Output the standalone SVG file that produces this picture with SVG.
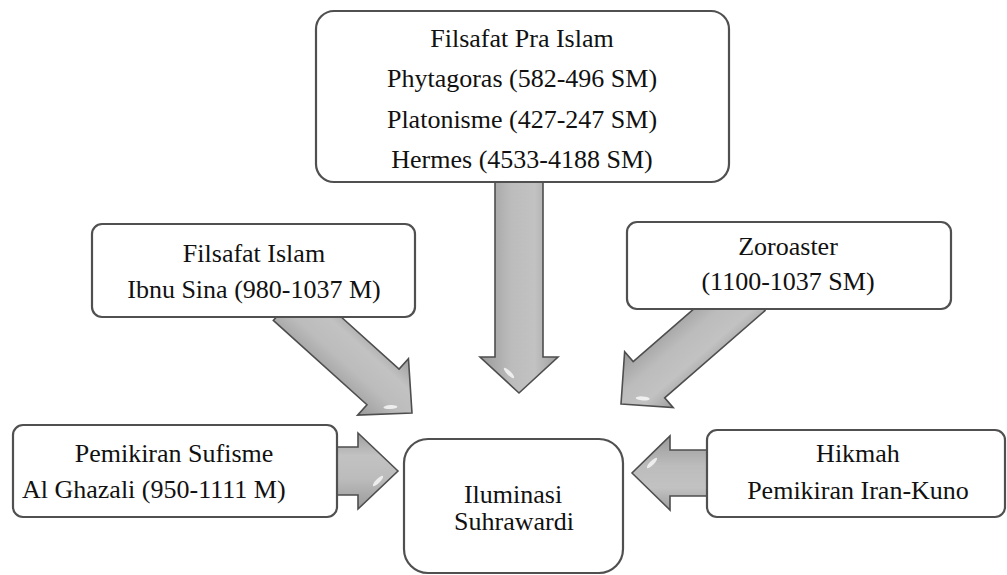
<svg xmlns="http://www.w3.org/2000/svg" width="1007" height="575" viewBox="0 0 1007 575">
  <defs>
    <!-- shaded fill across the arrow body (local y axis = across the arrow) -->
    <linearGradient id="arrowFill" x1="0" y1="0" x2="0" y2="1">
      <stop offset="0" stop-color="#9e9e9e"/>
      <stop offset="0.3" stop-color="#c2c2c2"/>
      <stop offset="0.6" stop-color="#bcbcbc"/>
      <stop offset="1" stop-color="#9a9a9a"/>
    </linearGradient>
  </defs>
  <style>
    .box { fill: #ffffff; stroke: #505050; stroke-width: 2.2; }
    .arrow { fill: url(#arrowFill); stroke: #4e4e4e; stroke-width: 1.6; stroke-linejoin: miter; }
    .shine { fill: #ffffff; opacity: 0.75; }
    text { font-family: "Liberation Serif", Tinos, "Times New Roman", Times, "Noto Serif", "DejaVu Serif", serif; font-size: 26px; fill: #111111; }
    .mid { text-anchor: middle; }
  </style>
  <rect width="1007" height="575" fill="#ffffff"/>

  <!-- block arrows: drawn in local space pointing along +x with the tip at the origin -->
  <g id="connectors">
    <g transform="translate(519,393) rotate(90)">
      <path class="arrow" d="M0,0 L-36,-39 L-36,-24 L-218,-24 L-218,24 L-36,24 L-36,39 Z"/>
      <ellipse class="shine" cx="-20" cy="10" rx="7" ry="2" transform="rotate(-45 -20 10)"/>
    </g>
    <g transform="translate(412,413) rotate(42)">
      <path class="arrow" d="M0,0 L-39,-38 L-39,-24 L-165,-24 L-165,24 L-39,24 L-39,38 Z"/>
      <ellipse class="shine" cx="-20" cy="10" rx="7" ry="2" transform="rotate(-45 -20 10)"/>
    </g>
    <g transform="translate(621,404) rotate(139)">
      <path class="arrow" d="M0,0 L-37,-37 L-37,-24 L-170,-24 L-170,24 L-37,24 L-37,37 Z"/>
      <ellipse class="shine" cx="-20" cy="-10" rx="7" ry="2" transform="rotate(45 -20 -10)"/>
    </g>
    <g transform="translate(398,471)">
      <path class="arrow" d="M0,0 L-40,-38 L-40,-24 L-70,-24 L-70,24 L-40,24 L-40,38 Z"/>
      <ellipse class="shine" cx="-20" cy="10" rx="7" ry="2" transform="rotate(-45 -20 10)"/>
    </g>
    <g transform="translate(632,473) rotate(180)">
      <path class="arrow" d="M0,0 L-38,-37 L-38,-23 L-85,-23 L-85,23 L-38,23 L-38,37 Z"/>
      <ellipse class="shine" cx="-20" cy="10" rx="7" ry="2" transform="rotate(-45 -20 10)"/>
    </g>
  </g>

  <g id="node-pra-islam">
    <rect class="box" x="316" y="11" width="413" height="171" rx="18"/>
    <text class="mid" x="522" y="47">Filsafat Pra Islam</text>
    <text class="mid" x="522" y="87">Phytagoras (582-496 SM)</text>
    <text class="mid" x="522" y="128">Platonisme (427-247 SM)</text>
    <text class="mid" x="522" y="168">Hermes (4533-4188 SM)</text>
  </g>

  <g id="node-filsafat-islam">
    <rect class="box" x="92" y="224" width="323" height="93" rx="10"/>
    <text class="mid" x="254" y="262">Filsafat Islam</text>
    <text class="mid" x="254" y="298">Ibnu Sina (980-1037 M)</text>
  </g>

  <g id="node-zoroaster">
    <rect class="box" x="627" y="222" width="324" height="87" rx="10"/>
    <text class="mid" x="788" y="255">Zoroaster</text>
    <text class="mid" x="788" y="290">(1100-1037 SM)</text>
  </g>

  <g id="node-sufisme">
    <rect class="box" x="13" y="425" width="324" height="92" rx="10"/>
    <text class="mid" x="174" y="462">Pemikiran Sufisme</text>
    <text x="22" y="498">Al Ghazali (950-1111 M)</text>
  </g>

  <g id="node-hikmah">
    <rect class="box" x="707" y="430" width="298" height="87" rx="10"/>
    <text class="mid" x="858" y="462">Hikmah</text>
    <text class="mid" x="858" y="499">Pemikiran Iran-Kuno</text>
  </g>

  <g id="node-iluminasi">
    <rect class="box" x="404" y="439" width="219" height="134" rx="24"/>
    <text class="mid" x="513" y="503">Iluminasi</text>
    <text class="mid" x="514" y="530">Suhrawardi</text>
  </g>
</svg>
